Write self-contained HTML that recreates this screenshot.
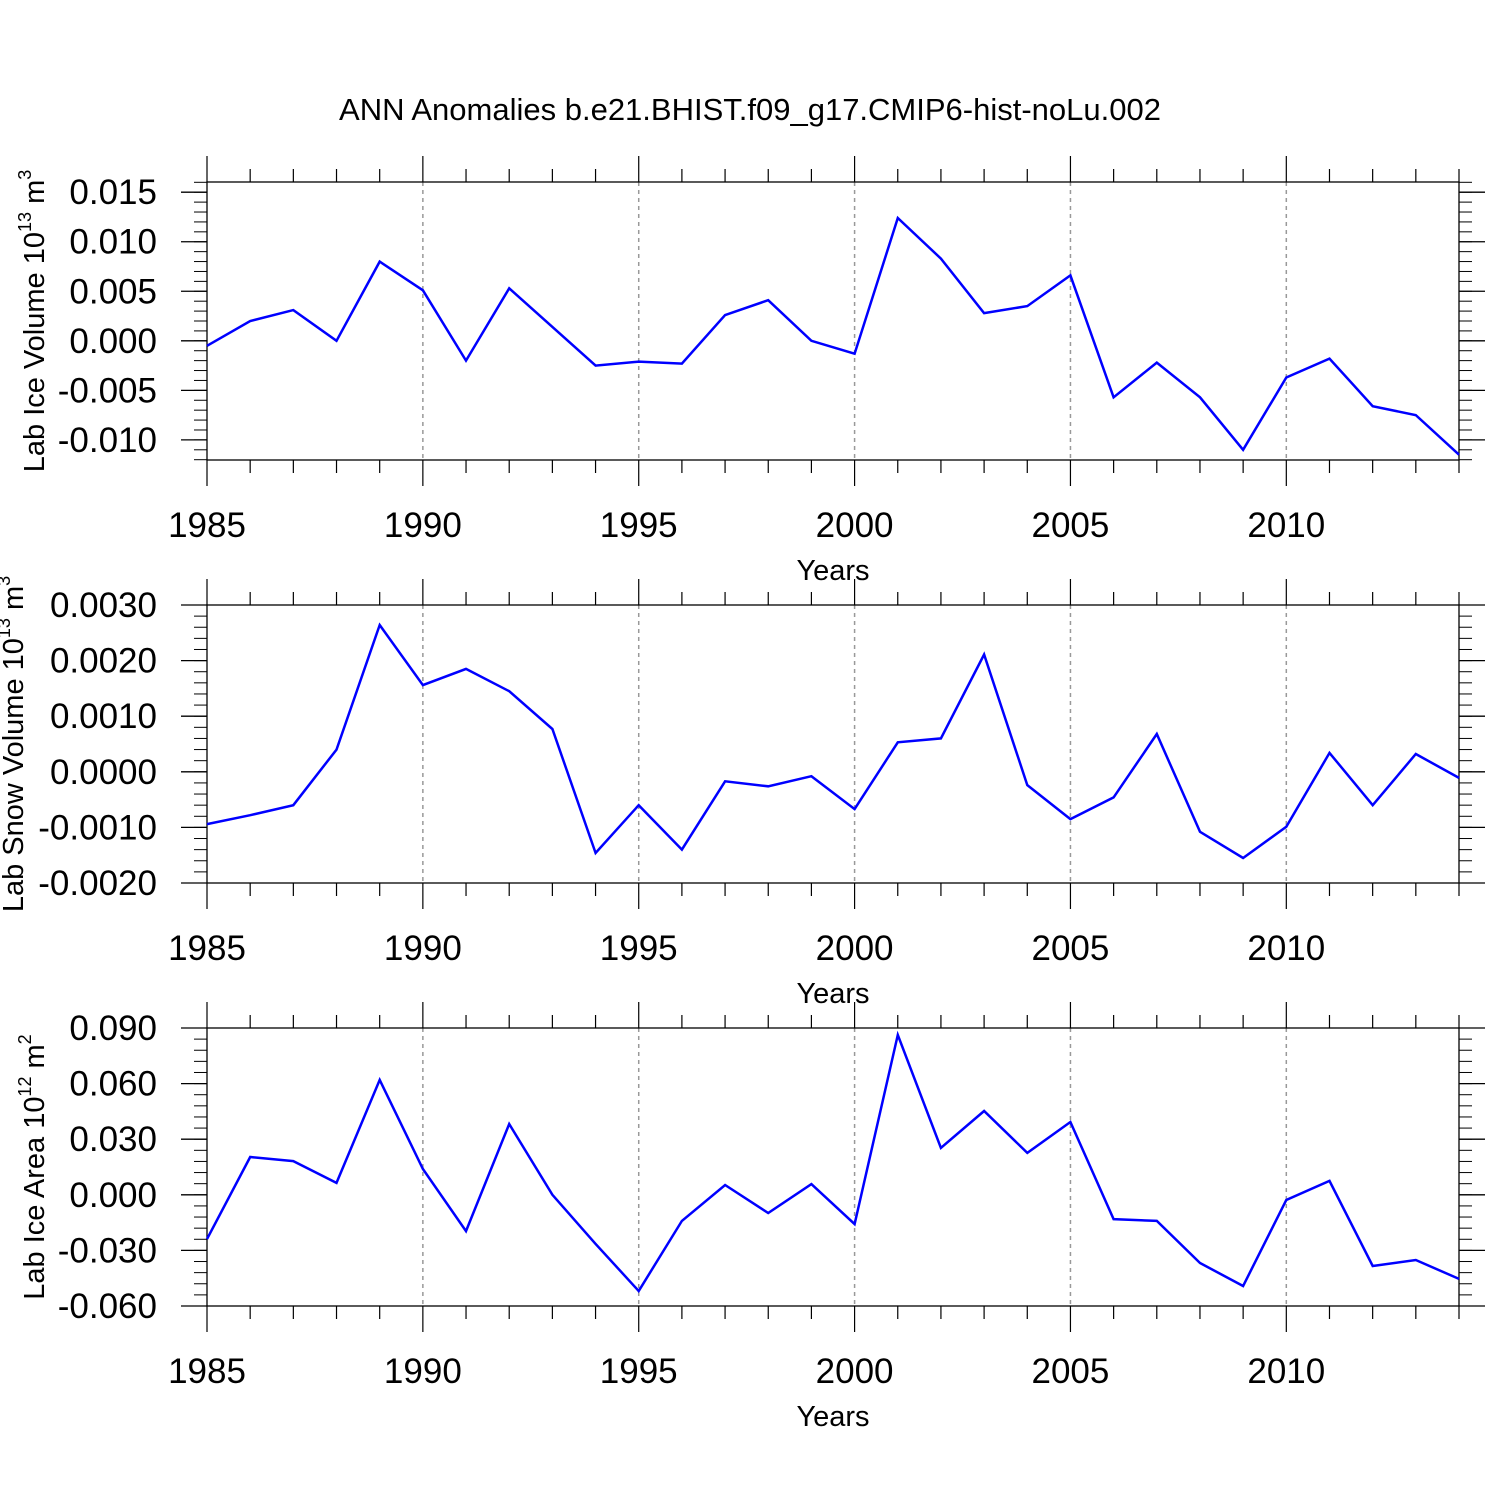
<!DOCTYPE html>
<html><head><meta charset="utf-8">
<style>html,body{margin:0;padding:0;background:#fff}svg{display:block}text{font-family:"Liberation Sans",Arial,sans-serif;fill:#000}</style>
</head><body>
<svg id="chart" width="1500" height="1500" viewBox="0 0 1500 1500" xmlns="http://www.w3.org/2000/svg">
<text x="750" y="120" text-anchor="middle" font-size="31">ANN Anomalies b.e21.BHIST.f09_g17.CMIP6-hist-noLu.002</text>
</svg>
<script>
const years = [1985,1986,1987,1988,1989,1990,1991,1992,1993,1994,1995,1996,1997,1998,1999,2000,2001,2002,2003,2004,2005,2006,2007,2008,2009,2010,2011,2012,2013,2014];
const iceVolume = [-0.0005,0.0020,0.0031,0.0000,0.0080,0.0051,-0.0020,0.0053,0.0014,-0.0025,-0.0021,-0.0023,0.0026,0.0041,0.0000,-0.0013,0.0124,0.0083,0.0028,0.0035,0.0066,-0.0057,-0.0022,-0.0057,-0.0110,-0.0037,-0.0018,-0.0066,-0.0075,-0.0115];
const snowVolume = [-0.00094,-0.00078,-0.0006,0.0004,0.00264,0.00156,0.00185,0.00145,0.00077,-0.00146,-0.0006,-0.0014,-0.00017,-0.00026,-0.00008,-0.00067,0.00053,0.0006,0.00211,-0.00024,-0.00085,-0.00046,0.00068,-0.00108,-0.00155,-0.00099,0.00034,-0.0006,0.00032,-0.00011];
const iceArea = [-0.0239,0.0204,0.0182,0.0064,0.0620,0.0139,-0.0196,0.0382,0.0,-0.0265,-0.0519,-0.0141,0.0053,-0.0098,0.0058,-0.0158,0.0863,0.0253,0.0452,0.0226,0.0393,-0.0131,-0.0141,-0.0368,-0.0492,-0.0028,0.0075,-0.0384,-0.0352,-0.0454];
const xTickLabels = ["1985","1990","1995","2000","2005","2010"];
const p1Ticks = [-0.010,-0.005,0.000,0.005,0.010,0.015];
const p1Labels = ["-0.010","-0.005","0.000","0.005","0.010","0.015"];
const p2Ticks = [-0.002,-0.001,0,0.001,0.002,0.003];
const p2Labels = ["-0.0020","-0.0010","0.0000","0.0010","0.0020","0.0030"];
const p3Ticks = [-0.06,-0.03,0,0.03,0.06,0.09];
const p3Labels = ["-0.060","-0.030","0.000","0.030","0.060","0.090"];

const svg = document.getElementById('chart');
const NS = 'http://www.w3.org/2000/svg';
function mk(tag, attrs, parent){const e=document.createElementNS(NS,tag);for(const k in attrs)e.setAttribute(k,attrs[k]);(parent||svg).appendChild(e);return e;}
const X0=207, X1=1459;
function xScale(yr){return X0+(yr-1985)*(X1-X0)/29;}

const panels = [
 {top:182,bot:460,vTop:0.01603,vBot:-0.01203,data:iceVolume,ticks:p1Ticks,labels:p1Labels,minor:0.001,ylab:"Lab Ice Volume 10",exp:"13",unit:"m",uexp:"3",name:"ice-volume",tx:44},
 {top:605,bot:883,vTop:0.0030,vBot:-0.0020,data:snowVolume,ticks:p2Ticks,labels:p2Labels,minor:0.0002,ylab:"Lab Snow Volume 10",exp:"13",unit:"m",uexp:"3",name:"snow-volume",tx:23},
 {top:1028,bot:1306,vTop:0.090,vBot:-0.060,data:iceArea,ticks:p3Ticks,labels:p3Labels,minor:0.006,ylab:"Lab Ice Area 10",exp:"12",unit:"m",uexp:"2",name:"ice-area",tx:44}
];

panels.forEach(p=>{
  const g = mk('g',{});
  
  
  const ys = v => p.bot-(v-p.vBot)*(p.bot-p.top)/(p.vTop-p.vBot);
  for(let yr=1990; yr<=2010; yr+=5){
    const l=mk('line',{x1:xScale(yr),x2:xScale(yr),y1:p.top,y2:p.bot,stroke:'#999','stroke-width':1.5,'stroke-dasharray':'4,4'},g);
    
    
  }
  const fr=mk('rect',{x:X0,y:p.top,width:X1-X0,height:p.bot-p.top,fill:'none',stroke:'#000','stroke-width':1.3},g);
  
  
  years.forEach(yr=>{
    const major=(yr%5===0);
    const len=major?26:13;
    const x=xScale(yr);
    mk('line',{x1:x,x2:x,y1:p.top,y2:p.top-len,stroke:'#000','stroke-width':1.2},g);
    mk('line',{x1:x,x2:x,y1:p.bot,y2:p.bot+len,stroke:'#000','stroke-width':1.2},g);
  });
  xTickLabels.forEach(s=>{
    const t=mk('text',{x:xScale(+s),y:p.bot+77,'text-anchor':'middle','font-size':35},g);
    t.textContent=s;
    
    
  });
  const xt=mk('text',{x:833,y:p.bot+120,'text-anchor':'middle','font-size':29},g);
  xt.textContent='Years';
  
  
  const start=Math.ceil(p.vBot/p.minor-1e-6);
  for(let i=start;i*p.minor<=p.vTop+1e-9;i++){
    const y=ys(i*p.minor);
    if(y<p.top-0.5||y>p.bot+0.5) continue;
    mk('line',{x1:X0,x2:X0-13,y1:y,y2:y,stroke:'#000','stroke-width':1},g);
    mk('line',{x1:X1,x2:X1+13,y1:y,y2:y,stroke:'#000','stroke-width':1},g);
  }
  p.ticks.forEach((v,i)=>{
    const y=ys(v);
    mk('line',{x1:X0,x2:X0-26,y1:y,y2:y,stroke:'#000','stroke-width':1.3},g);
    mk('line',{x1:X1,x2:X1+26,y1:y,y2:y,stroke:'#000','stroke-width':1.3},g);
    const t=mk('text',{x:157,y:y+12,'text-anchor':'end','font-size':35},g);
    t.textContent=p.labels[i];
    
    
  });
  const cy=(p.top+p.bot)/2;
  const yt=mk('text',{transform:`translate(${p.tx},${cy}) rotate(-90)`,'text-anchor':'middle','font-size':29},g);
  
  
  yt.innerHTML=`${p.ylab}<tspan dy="-13" font-size="18">${p.exp}</tspan><tspan dy="13"> ${p.unit}</tspan><tspan dy="-13" font-size="18">${p.uexp}</tspan>`;
  const pts=years.map((yr,i)=>xScale(yr).toFixed(1)+','+ys(p.data[i]).toFixed(1)).join(' ');
  const pl=mk('polyline',{points:pts,fill:'none',stroke:'#0000ff','stroke-width':2.5,'stroke-linejoin':'miter'},g);
  
  
});
</script>
</body></html>
